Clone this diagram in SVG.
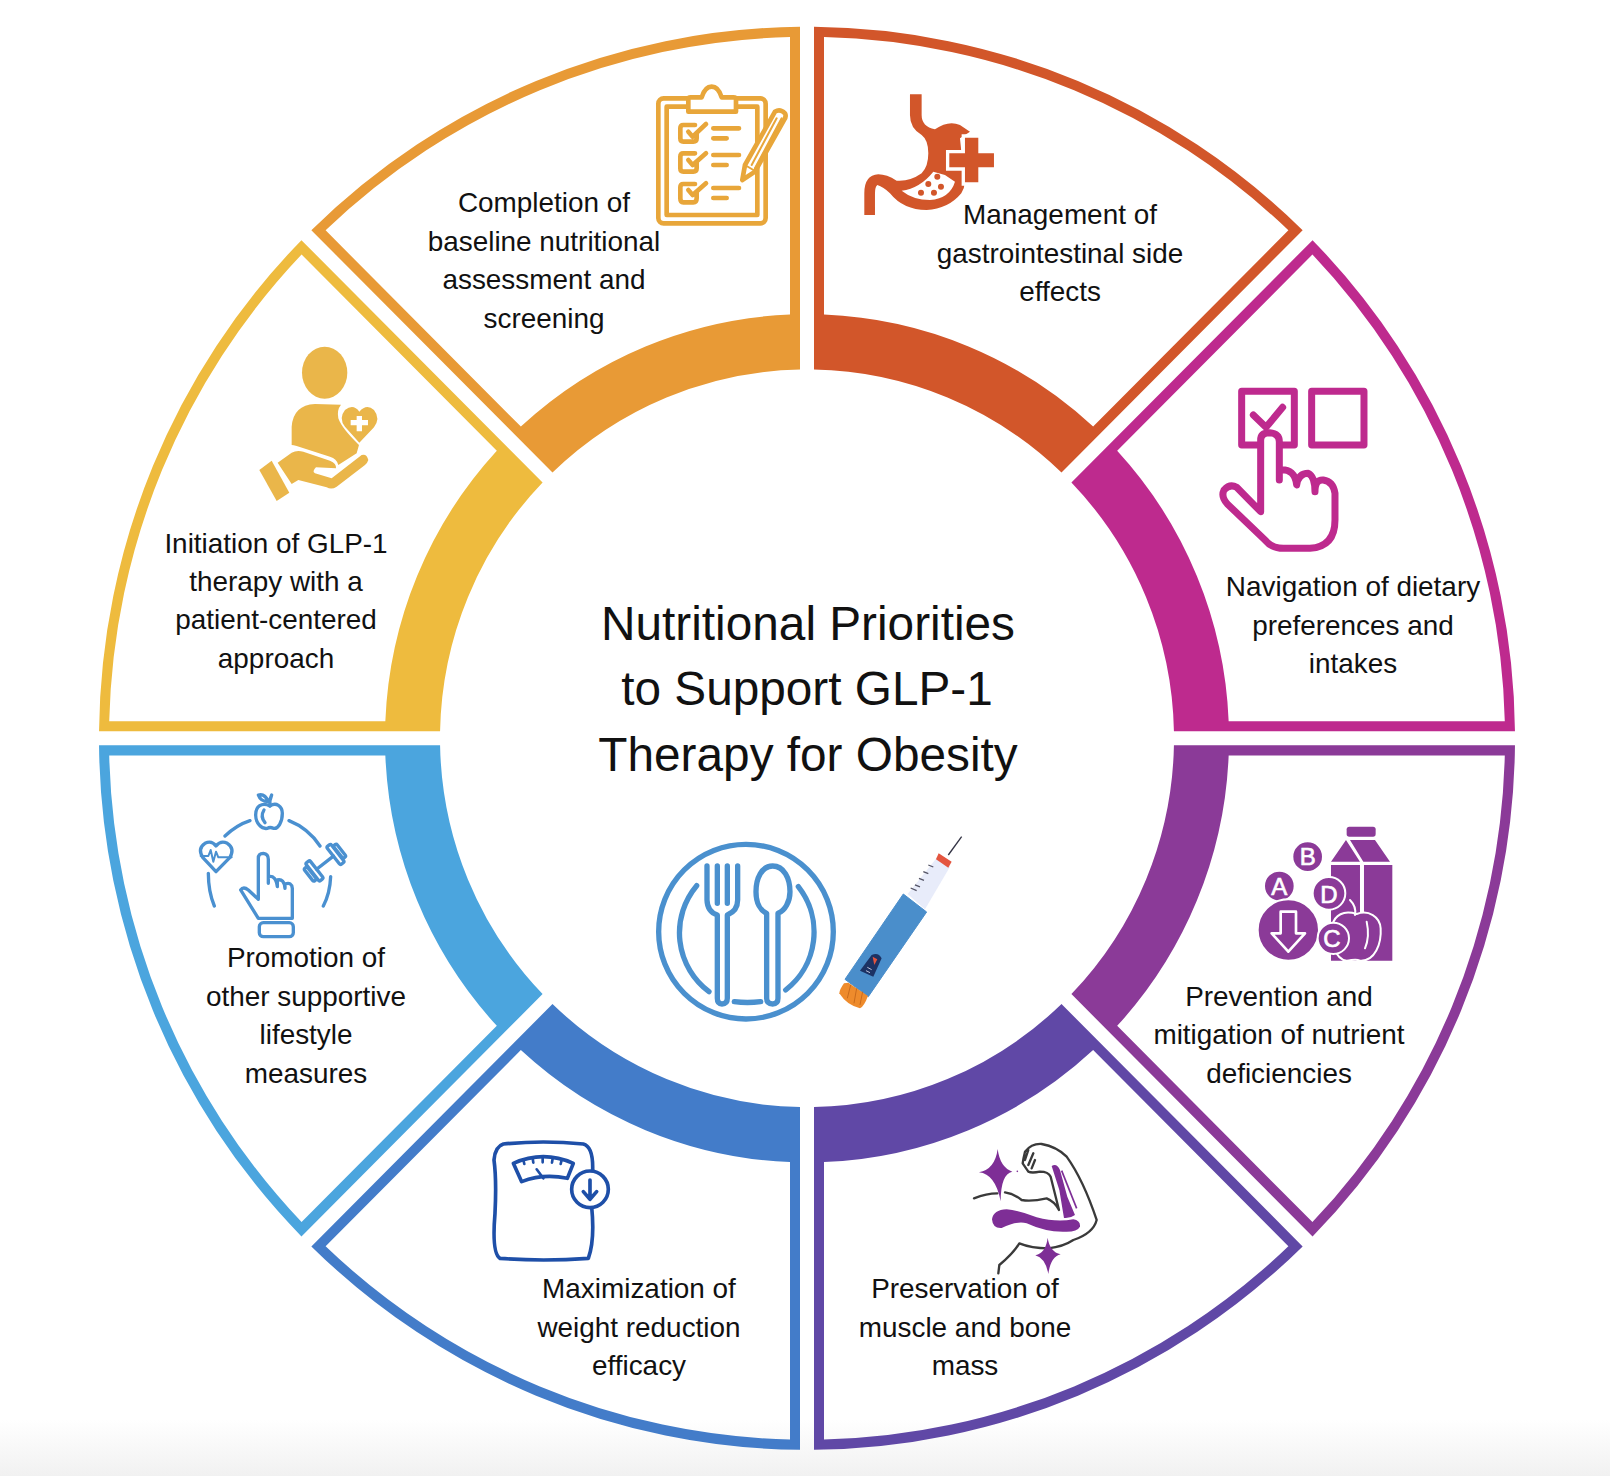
<svg xmlns="http://www.w3.org/2000/svg" width="1610" height="1476" viewBox="0 0 1610 1476">
<style>
text{font-family:"Liberation Sans",Arial,sans-serif;fill:#111;text-anchor:middle}
.l{font-size:27.9px}
.t{font-size:47.75px}
.ln{fill:none;stroke-linecap:round;stroke-linejoin:round}
</style>
<defs>
<path id="w" fill-rule="evenodd" d="M7 -707.97A708 708 0 0 1 495.65 -505.55L254.51 -264.41A367 367 0 0 0 7 -366.93ZM17 -697.79A698 698 0 0 1 481.39 -505.43L286.14 -310.18A422 422 0 0 0 17 -421.66Z"/>
<linearGradient id="bg" x1="0" y1="0" x2="0" y2="1"><stop offset="0" stop-color="#fff"/><stop offset="1" stop-color="#F1F1F1"/></linearGradient>
</defs>
<rect width="1610" height="1476" fill="#fff"/>
<rect y="1420" width="1610" height="56" fill="url(#bg)"/>
<g id="connectors"></g>
<g id="wheel" transform="translate(807 738.300) scale(1 1.005)">
<use href="#w" fill="#D2562A"/>
<use href="#w" fill="#BE2A8E" transform="matrix(0 -1 -1 0 0 0)"/>
<use href="#w" fill="#8B3A98" transform="rotate(90)"/>
<use href="#w" fill="#6048A6" transform="scale(1 -1)"/>
<use href="#w" fill="#437CC9" transform="rotate(180)"/>
<use href="#w" fill="#4BA5DE" transform="matrix(0 1 1 0 0 0)"/>
<use href="#w" fill="#EEBB3E" transform="rotate(-90)"/>
<use href="#w" fill="#E89A36" transform="scale(-1 1)"/>
</g>
<g id="center">
<text class="t" x="808" y="640">Nutritional Priorities</text>
<text class="t" x="807" y="705">to Support GLP-1</text>
<text class="t" x="808" y="771">Therapy for Obesity</text>
<g transform="translate(640 820) scale(.3333)">
<g class="ln" stroke="#4A90CE" stroke-width="16">
<circle cx="318" cy="335" r="262"/>
<path d="M170 197A220 220 0 0 0 207 515M475 200A220 220 0 0 1 437 510M283 545Q322 550 362 545"/>
<path fill="#fff" d="M201 138V240Q202 275 232 285V535Q232 552 246 552Q262 552 262 535V285Q293 272 293 240V138M232 138V250M262 138V250"/>
<path fill="#fff" d="M398 138C365 138 348 175 348 215C348 250 362 272 380 280V535Q380 552 398 552Q414 552 414 535V280C435 272 450 245 450 215C450 175 432 138 398 138Z"/>
</g>
<path d="M925 105L965 50" stroke="#334" stroke-width="4" fill="none"/>
<path d="M803 222L893 110L930 140L855 268Z" fill="#E8ECFA"/>
<path d="M896 100L935 125L925 143L888 118Z" fill="#E4553F"/>
<path d="M790 222L860 276L685 530L615 478Z" fill="#4A8ECB" stroke="#4A8ECB" stroke-width="3" stroke-linejoin="round"/>
<path d="M612 490Q598 510 598 520Q620 555 660 565Q672 560 684 528L625 488Z" fill="#EE8B2C"/>
<path d="M632 495L622 535M650 505L642 550M668 515L660 555" stroke="#C96A1C" stroke-width="3" fill="none"/>
<path d="M660 452L695 405Q715 395 725 415L700 470Z" fill="#1C3264"/>
<path d="M698 410L712 418L703 435Z" fill="#E4553F"/>
<path d="M682 442L695 449M678 452L690 458" stroke="#DDE" stroke-width="2.500"/>
<g stroke="#556" stroke-width="4"><path d="M865 135L880 141M850 155L865 161M837 175L852 181M825 195L840 201M812 204L830 212"/></g>
</g>
</g>
<g id="n1">
<text class="l" x="544" y="211.500">Completion of</text>
<text class="l" x="544" y="250.500">baseline nutritional</text>
<text class="l" x="544" y="288.500">assessment and</text>
<text class="l" x="544" y="327.500">screening</text>
<g transform="translate(620 60) scale(.3333)">
<g class="ln" stroke="#E8A63A" stroke-width="14">
<rect x="115" y="115" width="322" height="375" rx="16"/>
<rect x="140" y="140" width="272" height="325"/>
<path fill="#fff" d="M205 155V118Q205 112 212 112H245Q255 80 275 80Q295 80 305 112H340Q348 112 348 118V155Z"/>
<path d="M280 205H357M280 235H320M280 285H357M280 315H320M280 384H357M280 414H320"/>
<path d="M225 195H190Q181 195 181 205V235Q181 245 190 245H220Q230 245 230 235V220M205 215L218 230L258 192M225 280H190Q181 280 181 290V325Q181 335 190 335H220Q230 335 230 325V305M205 300L218 315L258 280M225 372H190Q181 372 181 382V415Q181 427 190 427H220Q230 427 230 415V395M205 390L218 405L258 370"/>
<path fill="#fff" d="M367 360L375 315L465 155Q480 145 495 160Q500 170 492 180L405 335Z"/>
<path d="M380 318L405 333M470 175L395 315M485 175L405 325" stroke-width="6"/>
</g>
</g>
</g>
<g id="n2">
<text class="l" x="1060" y="224">Management of</text>
<text class="l" x="1060" y="263">gastrointestinal side</text>
<text class="l" x="1060" y="301">effects</text>
<g transform="translate(620 60) scale(.3333)">
<path fill="#D2562A" d="M870 103H905V165Q905 200 945 208Q985 180 1020 195L1050 215L1020 235L1034 370Q1034 385 1024 400Q985 447 920 450Q850 450 810 400Q790 380 772 375Q765 380 765 400V465H733V400Q733 345 775 343Q800 343 830 362Q870 365 905 340Q925 320 925 280Q925 240 905 225Q870 205 870 165Z"/>
<path fill="#fff" d="M845 392Q900 385 940 335L975 345L1005 365Q990 415 930 420Q880 420 845 392Z"/>
<g fill="#D2562A"><circle cx="952" cy="350" r="9"/><circle cx="925" cy="372" r="9"/><circle cx="963" cy="380" r="9"/><circle cx="903" cy="398" r="9"/><circle cx="942" cy="398" r="9"/></g>
<path fill="#D2562A" stroke="#fff" stroke-width="20" paint-order="stroke" d="M1035 233H1075V280H1122V322H1075V367H1035V322H988V280H1035Z"/>
</g>
</g>
<g id="n3">
<text class="l" x="1353" y="596">Navigation of dietary</text>
<text class="l" x="1353" y="635">preferences and</text>
<text class="l" x="1353" y="673">intakes</text>
<g transform="translate(1200 370) scale(.3333)">
<g class="ln" stroke="#BE2A8E" stroke-width="21">
<rect x="125" y="64" width="158" height="161"/>
<rect x="335" y="64" width="157" height="161"/>
<path d="M160 135L198 172L248 112"/>
<path fill="#fff" d="M182 425L110 352Q90 340 72 360Q62 380 82 402L195 510Q215 535 250 535H330Q405 530 405 450V370Q400 335 370 330Q345 328 345 365Q345 320 325 310Q295 310 290 345Q285 295 238 300V330V215Q238 190 208 188Q182 188 182 210Z"/>
</g>
</g>
</g>
<g id="n4">
<text class="l" x="1279" y="1006">Prevention and</text>
<text class="l" x="1279" y="1044">mitigation of nutrient</text>
<text class="l" x="1279" y="1083">deficiencies</text>
<g transform="translate(1240 810) scale(.3333)">
<g fill="#8B3A98">
<rect x="320" y="50" width="87" height="30" rx="8"/>
<path d="M318 90L273 155H360ZM330 90H405L450 155H370ZM273 165H360V452H273ZM372 165H457V452H372Z"/>
<path stroke="#fff" stroke-width="6" d="M350 312C310 300 285 315 277 345C270 390 285 450 320 452C335 452 345 445 360 452C405 455 425 400 422 355C420 320 385 298 350 312Z"/>
</g>
<path d="M330 270Q350 290 345 315M380 335Q390 380 375 415" fill="none" stroke="#fff" stroke-width="6" stroke-linecap="round"/>
<g fill="#8B3A98" stroke="#fff" stroke-width="6">
<circle cx="203" cy="140" r="46"/><circle cx="118" cy="228" r="46"/><circle cx="267" cy="250" r="49"/><circle cx="145" cy="360" r="92"/><circle cx="280" cy="385" r="47"/>
</g>
<path d="M122 305H168V370H195L145 425L95 370H122Z" fill="none" stroke="#fff" stroke-width="8" stroke-linejoin="round"/>
<g style="font-size:72px">
<text x="203" y="166" style="fill:#fff;stroke:#fff;stroke-width:2">B</text>
<text x="118" y="254" style="fill:#fff;stroke:#fff;stroke-width:2">A</text>
<text x="267" y="278" style="fill:#fff;stroke:#fff;stroke-width:2">D</text>
<text x="276" y="411" style="fill:#fff;stroke:#fff;stroke-width:2">C</text>
</g>
</g>
</g>
<g id="n5">
<text class="l" x="965" y="1298">Preservation of</text>
<text class="l" x="965" y="1337">muscle and bone</text>
<text class="l" x="965" y="1375">mass</text>
<g transform="translate(960 1130) scale(.3333)">
<path class="ln" stroke="#3A3A3A" stroke-width="7" d="M42 205Q80 190 112 190M135 187Q160 190 185 210Q215 215 260 205Q285 215 297 240L272 140Q265 125 240 125Q215 130 205 125L188 100Q190 85 195 65Q215 40 245 42Q290 50 320 80Q370 150 410 270Q400 310 340 330Q310 350 265 355Q215 355 178 340Q160 370 118 405L115 430M205 60L195 90M220 70L205 105M225 90L215 115"/>
<g fill="#7E2E96">
<path d="M96 268Q100 240 140 238Q180 242 230 262Q290 278 340 268Q362 272 360 290Q352 305 320 305Q260 308 200 280Q170 272 125 294Q98 296 96 268Z"/>
<path d="M275 108Q290 98 300 120L322 200L345 255Q330 266 312 264L298 180Z"/>
<path d="M113 57Q120 112 157 125Q122 132 122 214Q106 132 57 127Q105 118 113 57Z"/>
<path d="M263 323Q269 365 302 373Q272 380 265 432Q256 384 226 376Q258 368 263 323Z"/>
<circle cx="172" cy="124" r="2.500"/>
</g>
<path d="M305 122L350 235" stroke="#7E2E96" stroke-width="5" fill="none"/>
</g>
</g>
<g id="n6">
<text class="l" x="639" y="1298">Maximization of</text>
<text class="l" x="639" y="1337">weight reduction</text>
<text class="l" x="639" y="1375">efficacy</text>
<g transform="translate(480 1130) scale(.3333)">
<g class="ln" stroke="#1E4FA8" stroke-width="11">
<path d="M335 230Q345 330 325 385Q190 395 60 385Q35 370 45 250Q50 150 42 90Q45 50 70 42Q190 30 310 42Q340 50 338 120"/>
<path d="M100 100Q190 60 280 100L262 145Q190 130 125 155Z"/>
<path d="M130 90L133 102M158 85L160 98M188 83V97M218 85L216 98M245 90L242 102M170 118L190 145" stroke-width="8"/>
<circle cx="330" cy="178" r="55" fill="#fff"/>
<path d="M330 150V205M310 185L330 208L350 185"/>
</g>
</g>
</g>
<g id="n7">
<text class="l" x="306" y="967">Promotion of</text>
<text class="l" x="306" y="1006">other supportive</text>
<text class="l" x="306" y="1044">lifestyle</text>
<text class="l" x="306" y="1083">measures</text>
<g transform="translate(190 780) scale(.3333)">
<g class="ln" stroke="#4A90D0" stroke-width="10">
<path d="M105 168Q140 135 180 122M297 122Q355 145 390 198M422 290Q420 340 400 378M55 280Q55 335 73 378"/>
<path d="M240 78C215 65 197 80 197 105C197 130 215 148 232 145Q240 140 250 145C265 148 277 125 277 100C277 78 258 65 240 78Z"/>
<path d="M222 90Q210 110 225 128M240 78Q238 60 245 45M205 45Q225 40 235 65Q212 65 205 45Z"/>
<path d="M78 275L38 232Q22 205 45 190Q65 180 78 198Q92 180 112 190Q135 205 120 232Z"/>
<path d="M32 228H55L62 210L70 245L78 215L85 232H125" stroke-width="6"/>
<g transform="translate(405 248) rotate(-38)">
<path d="M-32 0H32"/>
<rect x="-48" y="-34" width="16" height="68" rx="5"/><rect x="-62" y="-24" width="12" height="48" rx="5"/>
<rect x="32" y="-34" width="16" height="68" rx="5"/><rect x="50" y="-24" width="12" height="48" rx="5"/>
</g>
<path d="M205 415L152 330Q160 318 175 330L205 358V235Q205 220 220 220Q235 222 235 238V310V290Q258 285 262 320V300Q282 295 285 325V312Q305 305 307 325V415Z"/>
<rect x="208" y="428" width="102" height="42" rx="12"/>
</g>
</g>
</g>
<g id="n8">
<text class="l" x="276" y="553">Initiation of GLP-1</text>
<text class="l" x="276" y="591">therapy with a</text>
<text class="l" x="276" y="629">patient-centered</text>
<text class="l" x="276" y="668">approach</text>
<g transform="translate(230 330) scale(.3333)" fill="#EAB64A">
<ellipse cx="284" cy="128" rx="68" ry="78"/>
<path d="M185 345V290Q190 225 255 222L333 224Q320 240 325 265Q335 295 387 345L380 370L325 405Q320 385 300 380L200 348Q190 345 185 345Z"/>
<path d="M388 338L345 290Q325 265 345 240Q370 220 388 245Q410 220 432 240Q452 265 432 292Z"/>
<path d="M380 258H396V270H414V286H396V304H380V286H362V270H380Z" fill="#fff"/>
<path d="M143 398L185 368Q200 360 220 365L300 392Q320 400 318 415L258 412Q245 425 255 430L305 445L395 375Q410 370 415 390Q412 400 405 405L320 470Q305 480 290 472L205 450L185 462Z"/>
<path d="M88 420L125 392L178 488L140 513Z"/>
</g>
</g>
</svg>
